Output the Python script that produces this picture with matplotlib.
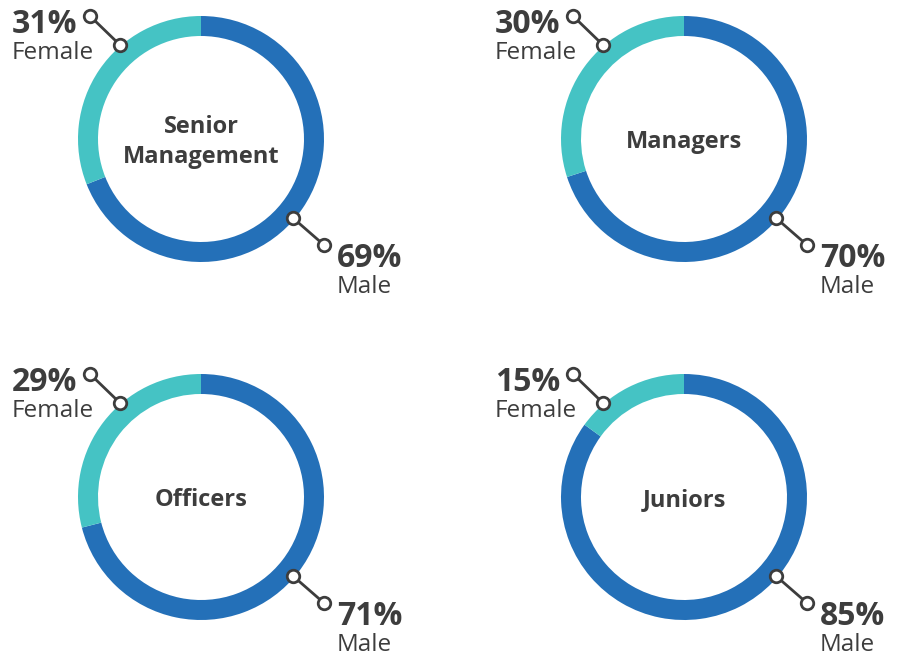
import matplotlib.pyplot as plt

# data
groups = ["Senior\nManagement", "Managers", "Officers", "Juniors"]
male = [69, 70, 71, 85]
female = [31, 30, 29, 15]

# donut centres in pixel space (y measured from the bottom)
centres = [(201, 518), (684, 518), (201, 160), (684, 160)]

blue = "#2470b8"
teal = "#45c3c4"
dark = "#3d3d3d"

plt.rcParams["font.family"] = ["Open Sans", "DejaVu Sans"]

fig = plt.figure(figsize=(9.03, 6.57), dpi=100)
ax = fig.add_axes([0, 0, 1, 1])

for name, m, f, (cx, cy) in zip(groups, male, female, centres):
    ax.pie([m, f], colors=[blue, teal], startangle=90, counterclock=False,
           center=(cx, cy), radius=123,
           wedgeprops=dict(width=20, linewidth=0))

    ax.text(cx, cy - 3, name, ha="center", va="center", fontsize=17,
            fontweight="bold", color=dark, linespacing=1.3)

    # female connector
    ax.plot([cx - 81, cx - 111], [cy + 94, cy + 123], color=dark, lw=2,
            marker="o", markersize=9, mfc="white", mec=dark, mew=2, zorder=5)
    ax.text(cx - 189, cy + 106, f"{f}%", ha="left", va="baseline",
            fontsize=23, fontweight="bold", color=dark)
    ax.text(cx - 189, cy + 80, "Female", ha="left", va="baseline",
            fontsize=17.5, color=dark)

    # male connector
    ax.plot([cx + 92, cx + 123], [cy - 79, cy - 106], color=dark, lw=2,
            marker="o", markersize=9, mfc="white", mec=dark, mew=2, zorder=5)
    ax.text(cx + 136, cy - 128, f"{m}%", ha="left", va="baseline",
            fontsize=23, fontweight="bold", color=dark)
    ax.text(cx + 136, cy - 154, "Male", ha="left", va="baseline",
            fontsize=17.5, color=dark)

ax.set_xlim(0, 903)
ax.set_ylim(0, 657)
ax.set_aspect("auto")
ax.axis("off")

plt.savefig("out.png", dpi=100)
